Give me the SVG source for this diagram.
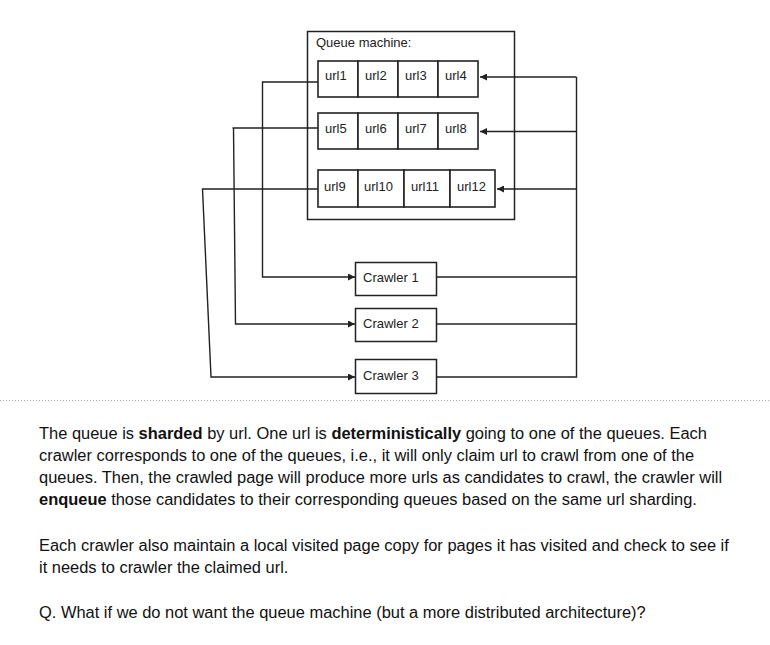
<svg xmlns="http://www.w3.org/2000/svg" width="770" height="645" viewBox="0 0 770 645">
<defs>
<style>
.box{fill:#fff;stroke:#222;stroke-width:1.5}
.cell{fill:#fff;stroke:#222;stroke-width:1.6}
.lbl{font-family:"Liberation Sans",Arial,sans-serif;font-size:13px;fill:#222}
.ln{fill:none;stroke:#222;stroke-width:1.4}
.body{font-family:"Liberation Sans",Arial,sans-serif;font-size:16.45px;fill:#111}
.b{font-weight:bold}
</style>
<marker id="ah" viewBox="0 0 10 10" refX="10" refY="5" markerWidth="9" markerHeight="7" markerUnits="userSpaceOnUse" orient="auto">
<path d="M0,0 L10,5 L0,10 Z" fill="#222"/>
</marker>
</defs>
<rect width="770" height="645" fill="#fff"/>

<g id="queue-machine">
<rect class="box" x="307.5" y="31.5" width="207" height="188"/>
<text class="lbl" x="316" y="47">Queue machine:</text>
</g>

<g id="queue1">
<rect class="cell" x="318" y="61" width="40" height="36"/>
<rect class="cell" x="358" y="61" width="40" height="36"/>
<rect class="cell" x="398" y="61" width="40" height="36"/>
<rect class="cell" x="438" y="61" width="40" height="36"/>
<text class="lbl" x="325" y="80">url1</text>
<text class="lbl" x="365" y="80">url2</text>
<text class="lbl" x="405" y="80">url3</text>
<text class="lbl" x="445" y="80">url4</text>
</g>

<g id="queue2">
<rect class="cell" x="318" y="113" width="40" height="36"/>
<rect class="cell" x="358" y="113" width="40" height="36"/>
<rect class="cell" x="398" y="113" width="40" height="36"/>
<rect class="cell" x="438" y="113" width="40" height="36"/>
<text class="lbl" x="325" y="133">url5</text>
<text class="lbl" x="365" y="133">url6</text>
<text class="lbl" x="405" y="133">url7</text>
<text class="lbl" x="445" y="133">url8</text>
</g>

<g id="queue3">
<rect class="cell" x="318" y="170" width="40" height="37"/>
<rect class="cell" x="358" y="170" width="46" height="37"/>
<rect class="cell" x="404" y="170" width="46" height="37"/>
<rect class="cell" x="450" y="170" width="45" height="37"/>
<text class="lbl" x="324" y="191">url9</text>
<text class="lbl" x="364" y="191">url10</text>
<text class="lbl" x="411" y="191">url11</text>
<text class="lbl" x="457" y="191">url12</text>
</g>

<g id="crawler1">
<rect class="box" x="355.5" y="262.5" width="81" height="33"/>
<text class="lbl" x="363" y="282">Crawler 1</text>
</g>
<g id="crawler2">
<rect class="box" x="355.5" y="308.5" width="81" height="33"/>
<text class="lbl" x="363" y="328">Crawler 2</text>
</g>
<g id="crawler3">
<rect class="box" x="355.5" y="359.5" width="81" height="34"/>
<text class="lbl" x="363" y="380">Crawler 3</text>
</g>

<g id="connectors">
<path class="ln" d="M318,82 H262.5 V277 H355" marker-end="url(#ah)"/>
<path class="ln" d="M318,128 H232.5 M233.5,128 L235.5,324 H355" marker-end="url(#ah)"/>
<path class="ln" d="M318,189 H202.5 L211,377 H355" marker-end="url(#ah)"/>
<path class="ln" d="M436.5,277 H576.5"/>
<path class="ln" d="M436.5,324 H576.5"/>
<path class="ln" d="M436.5,377 H576.5 V77"/>
<path class="ln" d="M576.5,77 H480" marker-end="url(#ah)"/>
<path class="ln" d="M576.5,131.5 H480" marker-end="url(#ah)"/>
<path class="ln" d="M576.5,189 H497" marker-end="url(#ah)"/>
</g>

<line x1="0" y1="400.5" x2="770" y2="400.5" stroke="#aaa" stroke-width="1" stroke-dasharray="1,2"/>

<g id="description">
<text class="body" x="39" y="439">The queue is <tspan class="b">sharded</tspan> by url. One url is <tspan class="b">deterministically</tspan> going to one of the queues. Each</text>
<text class="body" x="39" y="461">crawler corresponds to one of the queues, i.e., it will only claim url to crawl from one of the</text>
<text class="body" x="39" y="483">queues. Then, the crawled page will produce more urls as candidates to crawl, the crawler will</text>
<text class="body" x="39" y="504.5"><tspan class="b">enqueue</tspan> those candidates to their corresponding queues based on the same url sharding.</text>
<text class="body" x="39" y="551">Each crawler also maintain a local visited page copy for pages it has visited and check to see if</text>
<text class="body" x="39" y="573">it needs to crawler the claimed url.</text>
<text class="body" x="39" y="618">Q. What if we do not want the queue machine (but a more distributed architecture)?</text>
</g>
</svg>
